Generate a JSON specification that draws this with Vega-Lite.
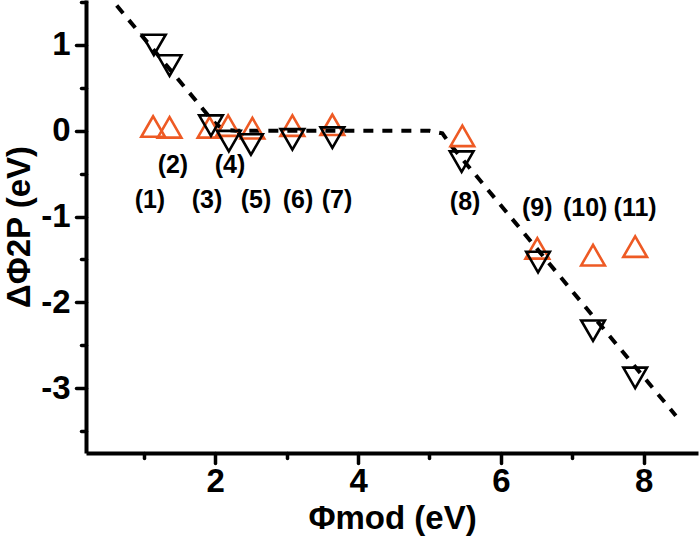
{
  "$schema": "https://vega.github.io/schema/vega-lite/v6.json",
  "width": 612,
  "height": 453,
  "autosize": "none",
  "padding": {"left": 86, "top": 0, "right": 1, "bottom": 90},
  "background": "white",
  "config": {
    "view": {"stroke": null},
    "font": "Liberation Sans",
    "axis": {
      "grid": false,
      "domainColor": "black",
      "domainWidth": 4,
      "tickColor": "black",
      "tickWidth": 3.5,
      "tickCap": "round",
      "labelFont": "Liberation Sans",
      "labelFontWeight": "bold",
      "labelFontSize": 33,
      "labelColor": "black",
      "titleFont": "Liberation Sans",
      "titleFontWeight": "bold",
      "titleFontSize": 33,
      "titleColor": "black"
    }
  },
  "datasets": {
    "fit": [
      {"x": 0.45, "y": 1.63},
      {"x": 1.98, "y": 0.10},
      {"x": 2.12, "y": 0.01},
      {"x": 2.3, "y": 0.0},
      {"x": 5.0, "y": 0.0},
      {"x": 5.18, "y": -0.03},
      {"x": 5.3, "y": -0.17},
      {"x": 8.45, "y": -3.32}
    ],
    "pts": [
      {"x": 1.13, "y": 0.05, "series": "up"},
      {"x": 1.36, "y": 0.04, "series": "up"},
      {"x": 1.92, "y": 0.04, "series": "up"},
      {"x": 2.18, "y": 0.06, "series": "up"},
      {"x": 2.52, "y": 0.03, "series": "up"},
      {"x": 3.08, "y": 0.06, "series": "up"},
      {"x": 3.64, "y": 0.07, "series": "up"},
      {"x": 5.46, "y": -0.06, "series": "up"},
      {"x": 6.51, "y": -1.37, "series": "up"},
      {"x": 7.29, "y": -1.45, "series": "up"},
      {"x": 7.88, "y": -1.35, "series": "up"},
      {"x": 1.14, "y": 1.0, "series": "down"},
      {"x": 1.36, "y": 0.76, "series": "down"},
      {"x": 1.94, "y": 0.06, "series": "down"},
      {"x": 2.19, "y": -0.12, "series": "down"},
      {"x": 2.50, "y": -0.16, "series": "down"},
      {"x": 3.08, "y": -0.10, "series": "down"},
      {"x": 3.64, "y": -0.08, "series": "down"},
      {"x": 5.45, "y": -0.36, "series": "down"},
      {"x": 6.52, "y": -1.53, "series": "down"},
      {"x": 7.29, "y": -2.33, "series": "down"},
      {"x": 7.88, "y": -2.88, "series": "down"}
    ],
    "labels": [
      {"x": 1.085, "y": -0.807, "t": "(1)"},
      {"x": 1.407, "y": -0.399, "t": "(2)"},
      {"x": 1.884, "y": -0.807, "t": "(3)"},
      {"x": 2.206, "y": -0.399, "t": "(4)"},
      {"x": 2.57, "y": -0.807, "t": "(5)"},
      {"x": 3.159, "y": -0.807, "t": "(6)"},
      {"x": 3.705, "y": -0.807, "t": "(7)"},
      {"x": 5.499, "y": -0.83, "t": "(8)"},
      {"x": 6.508, "y": -0.9, "t": "(9)"},
      {"x": 7.18, "y": -0.9, "t": "(10)"},
      {"x": 7.88, "y": -0.9, "t": "(11)"}
    ]
  },
  "encoding": {
    "x": {
      "field": "x",
      "type": "quantitative",
      "scale": {"domain": [0.19, 8.76], "nice": false, "zero": false},
      "axis": {
        "title": "Φmod (eV)",
        "values": [1, 2, 3, 4, 5, 6, 7, 8],
        "labelExpr": "datum.value % 2 === 0 ? '' + datum.value : ''",
        "tickSize": {"condition": {"test": "datum.value % 2 === 0", "value": 10}, "value": 5},
        "labelPadding": 2,
        "titlePadding": 4
      }
    },
    "y": {
      "field": "y",
      "type": "quantitative",
      "scale": {"domain": [-3.755, 1.524], "nice": false, "zero": false},
      "axis": {
        "title": "ΔΦ2P (eV)",
        "values": [-3.5, -3, -2.5, -2, -1.5, -1, -0.5, 0, 0.5, 1, 1.5],
        "labelExpr": "datum.value % 1 === 0 ? '' + datum.value : ''",
        "tickSize": {"condition": {"test": "datum.value % 1 === 0", "value": 10}, "value": 5},
        "labelPadding": 6,
        "titlePadding": 4
      }
    }
  },
  "layer": [
    {
      "data": {"name": "fit"},
      "mark": {"type": "line", "color": "black", "strokeWidth": 4, "strokeDash": [10, 9], "clip": true},
      "encoding": {}
    },
    {
      "data": {"name": "pts"},
      "mark": {"type": "point", "filled": false, "size": 560, "strokeWidth": 2.6, "opacity": 1},
      "encoding": {
        "shape": {"field": "series", "type": "nominal", "scale": {"domain": ["up", "down"], "range": ["triangle-up", "triangle-down"]}, "legend": null},
        "color": {"field": "series", "type": "nominal", "scale": {"domain": ["up", "down"], "range": ["#EE5A24", "#000000"]}, "legend": null}
      }
    },
    {
      "data": {"name": "labels"},
      "mark": {"type": "text", "font": "Liberation Sans", "fontWeight": "bold", "fontSize": 25, "color": "black", "align": "center", "baseline": "middle"},
      "encoding": {"text": {"field": "t", "type": "nominal"}}
    }
  ]
}
